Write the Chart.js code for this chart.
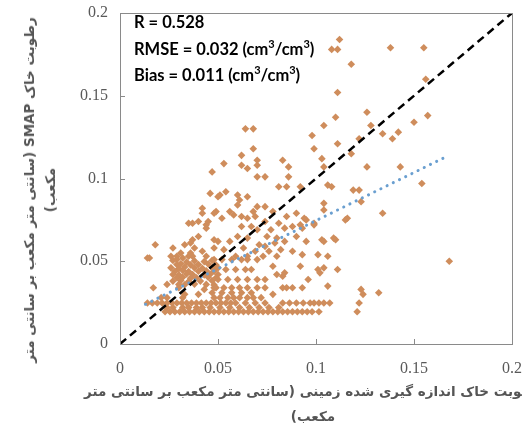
<!DOCTYPE html>
<html>
<head>
<meta charset="utf-8">
<script src="https://cdn.jsdelivr.net/npm/chart.js@4.4.1/dist/chart.umd.min.js"></script>
<style>
  body { margin: 0; background: #fff; }
  #wrap { position: relative; width: 522px; height: 441px; overflow: hidden; }
  .stats { position: absolute; left: 134px; top: 9px; font: bold 16.5px Lato, sans-serif; line-height: 26.5px; color: #000; white-space: nowrap; }
  .stats sup { font-size: 11px; line-height: 0; vertical-align: 7px; }
  .title { position: absolute; white-space: nowrap; font: bold 13.5px "DejaVu Sans", sans-serif; color: #555; direction: rtl; text-align: center; }
  .xtitle { left: 313px; top: 379px; transform: translateX(-50%); line-height: 25px; }
  .ytitle { left: 40px; top: 190px; transform: translate(-50%, -50%) rotate(-90deg); line-height: 21px; }
</style>
</head>
<body>
<div id="wrap">
  <canvas id="my-chart" width="522" height="441"></canvas>
  <div class="stats">
    R = 0.528<br>
    RMSE = 0.032 (cm<sup>3</sup>/cm<sup>3</sup>)<br>
    Bias = 0.011 (cm<sup>3</sup>/cm<sup>3</sup>)
  </div>
  <div class="title xtitle">رطوبت خاک اندازه گیری شده زمینی (سانتی متر مکعب بر سانتی متر<br>مکعب)</div>
  <div class="title ytitle">رطوبت خاک SMAP (سانتی متر مکعب بر سانتی متر<br>مکعب)</div>
</div>
<script>
// measured soil moisture (x) vs SMAP soil moisture (y), cm3/cm3

// SMAP values sit on a few fixed levels near the bottom
const rowLevels = [0.0195, 0.022, 0.0248];
const row20X = [0.023, 0.0255, 0.028, 0.0305, 0.033, 0.0355, 0.038, 0.0405, 0.043, 0.0455,
                0.048, 0.0505, 0.053, 0.0555, 0.058, 0.0605, 0.063, 0.0655, 0.068, 0.0705,
                0.073, 0.0755, 0.078, 0.0805, 0.083, 0.0855, 0.088, 0.0905, 0.093, 0.0955,
                0.098, 0.1015, 0.121];
const row22X = [0.024, 0.027, 0.032, 0.035, 0.039, 0.042, 0.046, 0.051, 0.056, 0.061,
                0.066, 0.071, 0.076, 0.081];
const row25X = [0.014, 0.0165, 0.019, 0.0215, 0.024, 0.0265, 0.029, 0.0315, 0.034, 0.0365,
                0.039, 0.0415, 0.044, 0.0465, 0.049, 0.0515, 0.054, 0.0565, 0.059, 0.064,
                0.069, 0.074, 0.083, 0.0865, 0.09, 0.0935, 0.097, 0.099, 0.1015, 0.104,
                0.107, 0.122];

// sparse points in the upper part
const upperX = [0.112, 0.108, 0.111, 0.138, 0.155, 0.118, 0.156, 0.111, 0.126, 0.110,
                0.157, 0.104, 0.134, 0.150, 0.064, 0.068, 0.128, 0.098, 0.142, 0.139,
                0.122, 0.111, 0.099, 0.068, 0.062, 0.053, 0.047, 0.062, 0.065, 0.070,
                0.070, 0.083, 0.086, 0.103, 0.118, 0.104, 0.126, 0.143, 0.154, 0.070,
                0.074, 0.086];
const upperY = [0.184, 0.178, 0.178, 0.179, 0.179, 0.169, 0.160, 0.152, 0.140, 0.137,
                0.138, 0.132, 0.127, 0.134, 0.130, 0.130, 0.132, 0.126, 0.128, 0.124,
                0.124, 0.121, 0.118, 0.118, 0.114, 0.109, 0.104, 0.108, 0.106, 0.111,
                0.108, 0.111, 0.107, 0.112, 0.115, 0.107, 0.107, 0.107, 0.097, 0.101,
                0.101, 0.101];

// right side, x > 0.09
const rightX = [0.106, 0.108, 0.119, 0.122, 0.123, 0.104, 0.104, 0.115, 0.116, 0.134,
                0.099, 0.103, 0.104, 0.109, 0.110, 0.101, 0.106, 0.101, 0.102, 0.104,
                0.111, 0.106, 0.123, 0.124, 0.132, 0.168, 0.095, 0.092, 0.096, 0.083];
const rightY = [0.096, 0.095, 0.093, 0.093, 0.086, 0.085, 0.081, 0.075, 0.076, 0.079,
                0.072, 0.063, 0.062, 0.064, 0.063, 0.054, 0.053, 0.045, 0.043, 0.046,
                0.045, 0.035, 0.033, 0.030, 0.031, 0.050, 0.075, 0.072, 0.039, 0.041];

// middle block, x 0.05-0.1, y 0.05-0.1
const midX = [0.081, 0.085, 0.092, 0.051, 0.054, 0.060, 0.061, 0.060, 0.065, 0.070,
              0.074, 0.056, 0.058, 0.062, 0.065, 0.068, 0.069, 0.078, 0.085, 0.090,
              0.094, 0.074, 0.081, 0.052, 0.049, 0.062, 0.067, 0.070, 0.077, 0.084,
              0.088, 0.093, 0.060, 0.065, 0.075, 0.080, 0.090, 0.056, 0.050, 0.071,
              0.074, 0.079, 0.084, 0.095, 0.053, 0.063, 0.069, 0.076, 0.088, 0.093,
              0.059, 0.065, 0.073, 0.080, 0.099];
const midY = [0.095, 0.095, 0.095, 0.090, 0.092, 0.090, 0.087, 0.084, 0.089, 0.083,
              0.083, 0.080, 0.078, 0.077, 0.076, 0.080, 0.077, 0.080, 0.077, 0.079,
              0.076, 0.074, 0.073, 0.076, 0.080, 0.071, 0.071, 0.069, 0.069, 0.070,
              0.071, 0.070, 0.065, 0.064, 0.065, 0.064, 0.065, 0.062, 0.062, 0.060,
              0.059, 0.061, 0.062, 0.062, 0.057, 0.058, 0.056, 0.056, 0.056, 0.054,
              0.053, 0.053, 0.053, 0.053, 0.073];

// left block, x < 0.05, y 0.05-0.09
const leftX = [0.046, 0.050, 0.042, 0.042, 0.048, 0.035, 0.037, 0.040, 0.045, 0.044,
               0.044, 0.040, 0.037, 0.048, 0.036, 0.033, 0.018, 0.038, 0.027, 0.048,
               0.042, 0.031, 0.036, 0.026, 0.029, 0.035, 0.037, 0.014, 0.044];
const leftY = [0.091, 0.089, 0.082, 0.079, 0.079, 0.073, 0.073, 0.074, 0.074, 0.072,
               0.070, 0.065, 0.063, 0.063, 0.061, 0.060, 0.060, 0.058, 0.058, 0.058,
               0.056, 0.055, 0.055, 0.053, 0.053, 0.053, 0.053, 0.052, 0.053];

// dense cluster, x 0.025-0.05, y 0.028-0.052
const clusterX = [0.015, 0.029, 0.032,
                  0.027, 0.034, 0.038, 0.043, 0.047,
                  0.029, 0.031, 0.036, 0.040, 0.045, 0.049,
                  0.026, 0.030, 0.033, 0.038, 0.042, 0.047, 0.050,
                  0.028, 0.032, 0.035, 0.040, 0.044, 0.048,
                  0.027, 0.030, 0.034, 0.037, 0.043, 0.046, 0.050,
                  0.029, 0.032, 0.036, 0.039, 0.045, 0.049,
                  0.027, 0.031, 0.035, 0.041, 0.047,
                  0.030, 0.033, 0.038, 0.044, 0.048,
                  0.017, 0.024, 0.030, 0.033, 0.032, 0.021, 0.024, 0.043, 0.047, 0.040, 0.049];
const clusterY = [0.052, 0.051, 0.052,
                  0.0505, 0.0495, 0.0502, 0.0498, 0.0505,
                  0.048, 0.0485, 0.0478, 0.048, 0.0483, 0.0477,
                  0.046, 0.0455, 0.0465, 0.046, 0.0458, 0.0462, 0.046,
                  0.044, 0.0445, 0.0438, 0.044, 0.0443, 0.044,
                  0.042, 0.0418, 0.0424, 0.042, 0.0417, 0.0422, 0.042,
                  0.040, 0.0403, 0.0398, 0.040, 0.0404, 0.040,
                  0.038, 0.0383, 0.0378, 0.038, 0.0382,
                  0.036, 0.0358, 0.0362, 0.036, 0.0357,
                  0.034, 0.036, 0.034, 0.030, 0.028, 0.028, 0.028, 0.033, 0.031, 0.030, 0.034];

// lower block, x 0.048-0.095, y 0.028-0.057
const lowX = [0.048, 0.052, 0.057, 0.062, 0.065, 0.070, 0.078, 0.084, 0.092, 0.080,
              0.048, 0.054, 0.059, 0.064, 0.067, 0.050, 0.055, 0.060, 0.065, 0.070,
              0.074, 0.048, 0.053, 0.057, 0.061, 0.065, 0.070, 0.074, 0.083, 0.085,
              0.088, 0.093, 0.052, 0.057, 0.062, 0.067, 0.078, 0.048, 0.051, 0.055,
              0.058, 0.061, 0.065, 0.068, 0.072, 0.082];
const lowY = [0.051, 0.051, 0.051, 0.051, 0.051, 0.051, 0.047, 0.043, 0.047, 0.042,
              0.045, 0.045, 0.045, 0.045, 0.045, 0.039, 0.039, 0.039, 0.039, 0.039,
              0.039, 0.034, 0.034, 0.034, 0.034, 0.034, 0.034, 0.034, 0.034, 0.034,
              0.034, 0.034, 0.031, 0.031, 0.031, 0.031, 0.030, 0.028, 0.028, 0.028,
              0.028, 0.028, 0.028, 0.028, 0.028, 0.057];

// linear trend and 1:1 line
const trendX = [0.013, 0.167];
const trendY = [0.024, 0.1135];
const oneToOne = [0, 0.2];

const axisTicks = [0, 0.05, 0.1, 0.15, 0.2];

const points = [];
function addPairs(xs, ys) { xs.forEach((v, i) => points.push({ x: v, y: ys[i] })); }
function addRow(xs, level) { xs.forEach(v => points.push({ x: v, y: level })); }
addRow(row20X, rowLevels[0]);
addRow(row22X, rowLevels[1]);
addRow(row25X, rowLevels[2]);
addPairs(upperX, upperY);
addPairs(rightX, rightY);
addPairs(midX, midY);
addPairs(leftX, leftY);
addPairs(clusterX, clusterY);
addPairs(lowX, lowY);

// box around the plot + ticks pointing inward (like the Excel original)
const frame = {
  id: 'frame',
  afterDraw(chart) {
    const { ctx, chartArea: a, scales } = chart;
    ctx.save();
    ctx.strokeStyle = '#8a8a8a';
    ctx.lineWidth = 1;
    ctx.strokeRect(Math.round(a.left) + 0.5, Math.round(a.top) + 0.5, Math.round(a.right - a.left), Math.round(a.bottom - a.top));
    ctx.beginPath();
    axisTicks.forEach(v => {
      const px = Math.round(scales.x.getPixelForValue(v)) + 0.5;
      ctx.moveTo(px, a.bottom); ctx.lineTo(px, a.bottom - 5);
      const py = Math.round(scales.y.getPixelForValue(v)) + 0.5;
      ctx.moveTo(a.left, py); ctx.lineTo(a.left + 5, py);
    });
    ctx.stroke();
    ctx.restore();
  }
};

const tickStyle = {
  stepSize: 0.05,
  color: '#595959',
  font: { family: 'Liberation Serif', size: 16 },
  callback: v => String(+v.toFixed(2))
};

const ctx = document.getElementById('my-chart').getContext('2d');
const chart = new Chart(ctx, {
  type: 'scatter',
  data: {
    datasets: [{
      label: '1:1',
      type: 'line',
      data: oneToOne.map(v => ({ x: v, y: v })),
      borderColor: '#000',
      borderWidth: 2.5,
      borderDash: [8, 5],
      pointRadius: 0,
      fill: false
    }, {
      label: 'Linear',
      type: 'line',
      data: trendX.map((v, i) => ({ x: v, y: trendY[i] })),
      borderColor: '#6a9fd0',
      borderWidth: 3,
      borderDash: [0.1, 6.8],
      borderCapStyle: 'round',
      pointRadius: 0,
      fill: false
    }, {
      label: 'SMAP',
      data: points,
      pointStyle: 'rectRot',
      pointRadius: 3.8,
      pointBackgroundColor: '#cf8d5c',
      pointBorderWidth: 0
    }]
  },
  options: {
    responsive: false,
    animation: false,
    devicePixelRatio: 1,
    layout: { padding: { top: 13, right: 10, left: 0, bottom: 0 } },
    plugins: { legend: { display: false }, tooltip: { enabled: false } },
    scales: {
      x: {
        type: 'linear', min: 0, max: 0.2,
        grid: { display: false, drawTicks: false },
        border: { display: false },
        ticks: { ...tickStyle, padding: 15 },
        afterFit: s => { s.height = 97; s.paddingLeft = 0; s.paddingRight = 0; }
      },
      y: {
        type: 'linear', min: 0, max: 0.2,
        grid: { display: false, drawTicks: false },
        border: { display: false },
        ticks: { ...tickStyle, padding: 12 },
        afterFit: s => { s.width = 120; s.paddingTop = 0; s.paddingBottom = 0; }
      }
    }
  },
  plugins: [frame]
});
</script>
</body>
</html>
